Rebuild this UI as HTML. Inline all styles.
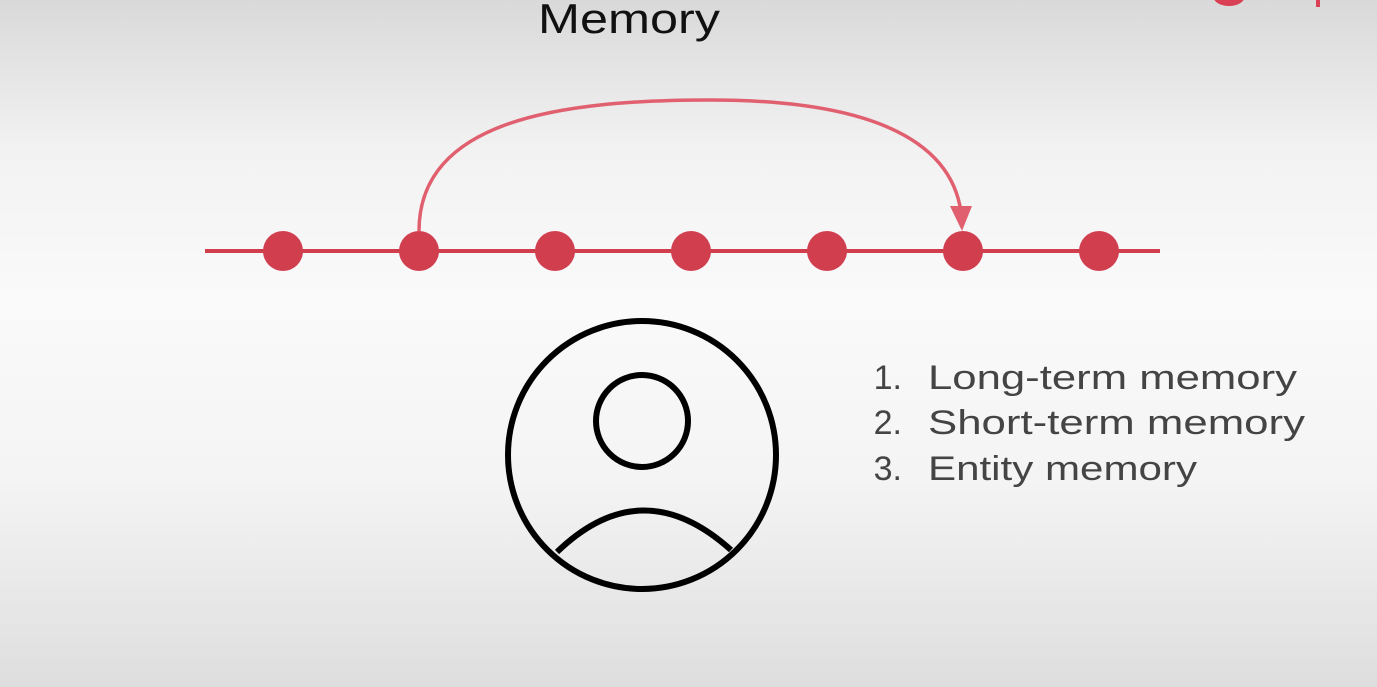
<!DOCTYPE html>
<html><head><meta charset="utf-8"><style>
html,body{margin:0;padding:0;width:1377px;height:687px;overflow:hidden}
body{background:linear-gradient(#d9d9d9 0px,#f2f2f2 150px,#fafafa 300px,#f4f4f4 480px,#dedede 687px);font-family:"Liberation Sans",sans-serif}
</style></head><body>
<svg width="1377" height="687" style="position:absolute;left:0;top:0">
<text x="538" y="33" font-size="42" fill="#111" textLength="182" lengthAdjust="spacingAndGlyphs">Memory</text>
<ellipse cx="1229" cy="-4" rx="16" ry="10" fill="#d94053"/>
<rect x="1316" y="0" width="4" height="7" fill="#d94053"/>
<line x1="205" y1="251" x2="1160" y2="251" stroke="#d13f4f" stroke-width="4"/>
<g id="dots"></g>
<path d="M419,231 C419,120 560,100 710,100 C860,100 950,135 961,212" fill="none" stroke="#e0606f" stroke-width="3.5"/>
<polygon points="950,206 972,206 962,231" fill="#e0606f"/>
<circle cx="642" cy="455" r="134" fill="none" stroke="#000" stroke-width="6"/>
<circle cx="642" cy="421" r="46" fill="none" stroke="#000" stroke-width="6"/>
<path d="M557,552 Q642,470 731,550" fill="none" stroke="#000" stroke-width="6"/>
<g font-size="34" fill="#444">
<text x="902" y="389" text-anchor="end">1.</text>
<text x="928" y="389" textLength="369" lengthAdjust="spacingAndGlyphs">Long-term memory</text>
<text x="902" y="434" text-anchor="end">2.</text>
<text x="928" y="434" textLength="377" lengthAdjust="spacingAndGlyphs">Short-term memory</text>
<text x="902" y="480" text-anchor="end">3.</text>
<text x="928" y="480" textLength="269" lengthAdjust="spacingAndGlyphs">Entity memory</text>
</g>
</svg>
<script>
const steps=[0,1,2,3,4,5,6];
const x0=283, dx=136, y=251;
const g=document.getElementById('dots');
steps.forEach(s=>{
  const c=document.createElementNS('http://www.w3.org/2000/svg','circle');
  c.setAttribute('cx',x0+s*dx);c.setAttribute('cy',y);c.setAttribute('r',20);c.setAttribute('fill','#d13f4f');
  
  
  g.appendChild(c);
});
</script>
</body></html>
